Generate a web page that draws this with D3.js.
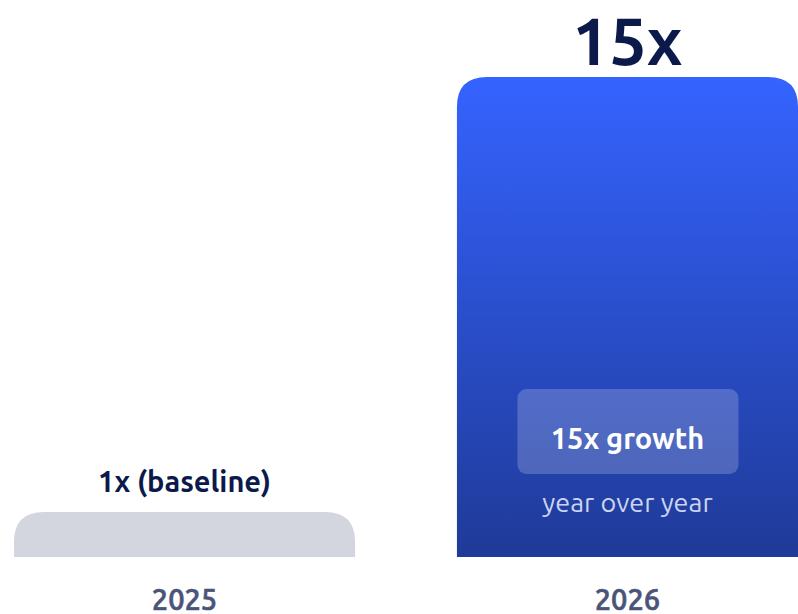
<!DOCTYPE html>
<html>
<head>
<meta charset="utf-8">
<script src="https://cdn.jsdelivr.net/npm/d3@7"></script>
<style>
  body { margin: 0; background: #fff; }
  text { font-family: Ubuntu, "Noto Sans", sans-serif; }
</style>
</head>
<body>
<script>
// chart data
var years = ['2025', '2026'];
var multipliers = [1, 15];
var topLabels = ['1x (baseline)', '15x'];

var width = 798, height = 614;

var svg = d3.select('body').append('svg')
    .attr('width', width)
    .attr('height', height);

var defs = svg.append('defs');
var grad = defs.append('linearGradient')
    .attr('id', 'blueGrad')
    .attr('x1', 0).attr('y1', 0).attr('x2', 0).attr('y2', 1);
grad.append('stop').attr('offset', '0%').attr('stop-color', '#3563ff');
grad.append('stop').attr('offset', '100%').attr('stop-color', '#1f3a98');

// x band scale for the two bars
var x = d3.scaleBand()
    .domain(years)
    .range([14, 798])
    .paddingInner(0.23)
    .paddingOuter(0);

var baseY = 557;
// height scale (baseline bar keeps a visible minimum)
var h = d3.scaleLinear().domain([1, 15]).range([45, 480]);

var r = 30;
function topRounded(x0, y0, w, hh, rr) {
  return 'M' + x0 + ',' + (y0 + hh) +
    'V' + (y0 + rr) +
    'Q' + x0 + ',' + y0 + ' ' + (x0 + rr) + ',' + y0 +
    'H' + (x0 + w - rr) +
    'Q' + (x0 + w) + ',' + y0 + ' ' + (x0 + w) + ',' + (y0 + rr) +
    'V' + (y0 + hh) + 'Z';
}

var data = years.map(function(y, i) {
  return { year: y, value: multipliers[i], label: topLabels[i] };
});

svg.selectAll('path.bar')
  .data(data)
  .enter().append('path')
  .attr('class', 'bar')
  .attr('d', function(d) {
    var hh = h(d.value);
    return topRounded(x(d.year), baseY - hh, x.bandwidth(), hh, r);
  })
  .attr('fill', function(d, i) { return i === 0 ? '#d3d6df' : 'url(#blueGrad)'; });

// top labels
svg.selectAll('text.top')
  .data(data)
  .enter().append('text')
  .attr('class', 'top')
  .attr('x', function(d) { return x(d.year) + x.bandwidth() / 2; })
  .attr('y', function(d, i) { return i === 0 ? baseY - h(d.value) - 20 : baseY - h(d.value) - 12; })
  .attr('text-anchor', 'middle')
  .attr('font-weight', 'bold')
  .attr('font-size', function(d, i) { return i === 0 ? 29 : 66; })
  .attr('fill', '#0b1a4b')
  .text(function(d) { return d.label; });

// year labels (medium weight faked with a thin stroke)
svg.selectAll('text.year')
  .data(data)
  .enter().append('text')
  .attr('class', 'year')
  .attr('x', function(d) { return x(d.year) + x.bandwidth() / 2; })
  .attr('y', 610)
  .attr('text-anchor', 'middle')
  .attr('font-size', 29)
  .attr('font-weight', 500)
  .attr('fill', '#4b5478')
  .attr('stroke', '#4b5478')
  .attr('stroke-width', 0.7)
  .text(function(d) { return d.year; });

// inner callout on the 2026 bar
var cx = x('2026') + x.bandwidth() / 2;
svg.append('rect')
  .attr('x', cx - 110).attr('y', 389)
  .attr('width', 221).attr('height', 85)
  .attr('rx', 9)
  .attr('fill', '#ffffff').attr('fill-opacity', 0.2);
svg.append('text')
  .attr('x', cx).attr('y', 449)
  .attr('text-anchor', 'middle')
  .attr('font-weight', 'bold')
  .attr('font-size', 29)
  .attr('fill', '#ffffff')
  .text(multipliers[1] + 'x growth');
svg.append('text')
  .attr('x', cx).attr('y', 512)
  .attr('text-anchor', 'middle')
  .attr('font-size', 27)
  .attr('fill', '#ccd4f2')
  .text('year over year');
</script>
</body>
</html>
